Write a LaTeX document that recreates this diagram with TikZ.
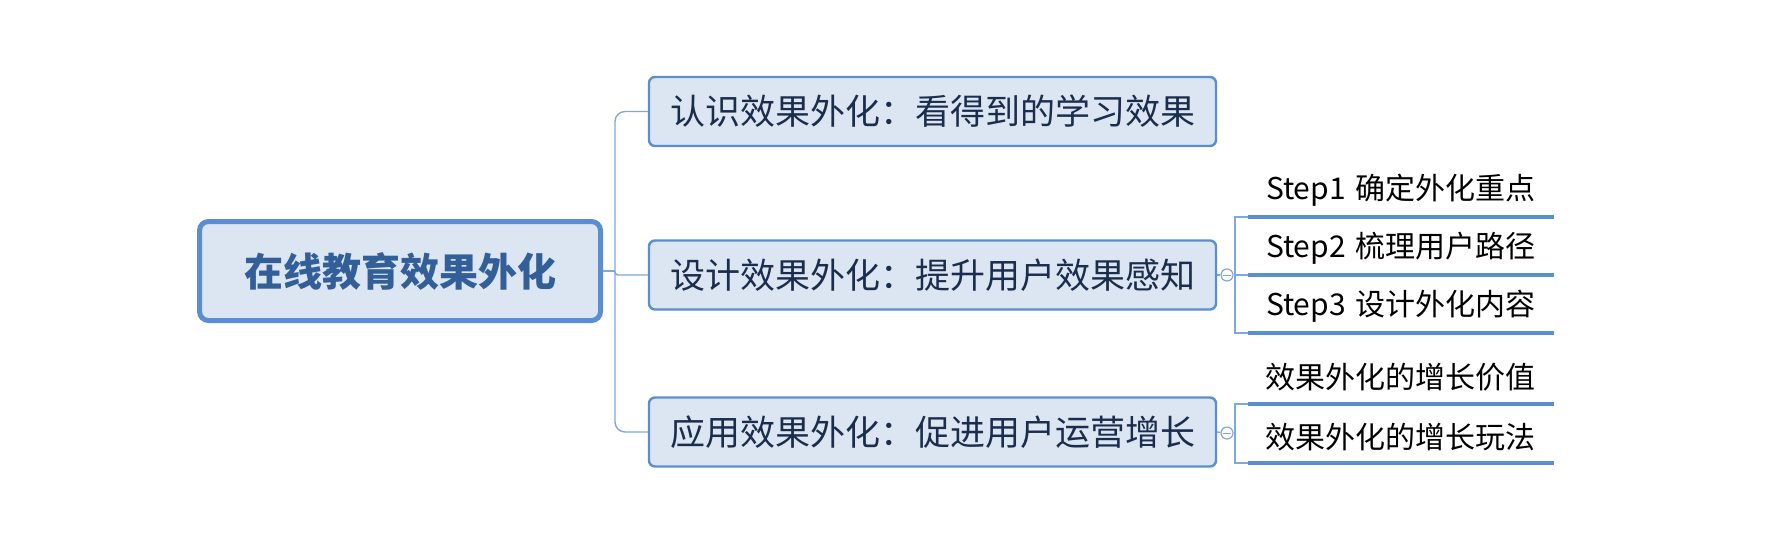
\documentclass[tikz,border=0pt]{standalone}
\usepackage{fontspec}
\setmainfont{Noto Sans CJK SC}

\definecolor{box_line}{HTML}{5A8ED3}
\definecolor{box_fill}{HTML}{DCE6F2}
\definecolor{root_text}{HTML}{335F98}
\definecolor{branch_text}{HTML}{1B2D4C}
\definecolor{link_line}{HTML}{7FA8DD}

\begin{document}
\begin{tikzpicture}[x=0.5pt, y=-0.5pt,
	root_box/.style={draw=box_line, line width=2.5pt, fill=box_fill, rounded corners=4.5pt, minimum width=200.5pt, minimum height=49.5pt, text=root_text, font=\fontsize{19.5}{23}\selectfont\bfseries},
	branch_box/.style={draw=box_line, line width=1.2pt, fill=box_fill, rounded corners=3pt, minimum width=283.5pt, minimum height=34.5pt, text=branch_text, font=\fontsize{17.5}{21}\selectfont},
	leaf_text/.style={anchor=south west, minimum width=152.5pt, minimum height=26pt, inner sep=0pt, font=\fontsize{15}{18}\selectfont},
	leaf_rule/.style={draw=box_line, line width=2pt},
	link/.style={draw=link_line, line width=0.7pt},
	fold_mark/.style={circle, draw=link_line, line width=0.6pt, fill=white, minimum size=6pt, inner sep=0pt,
		path picture={\draw[link_line, line width=0.5pt] ([xshift=-1.8pt]path picture bounding box.center) -- ([xshift=1.8pt]path picture bounding box.center);}}]
	\useasboundingbox (0,0) rectangle (1792,554);

	\node[root_box] (root) at (400,271) {在线教育效果外化};
	\node[branch_box] (know_eff) at (932.5,111.5) {认识效果外化：看得到的学习效果};
	\node[branch_box] (design_eff) at (932.5,275) {设计效果外化：提升用户效果感知};
	\node[branch_box] (apply_eff) at (932.5,432) {应用效果外化：促进用户运营增长};

	\coordinate (fork) at (615,271);
	\draw[link] (root.east) -- (fork);
	\draw[link, rounded corners=5pt] (fork) |- (know_eff.west);
	\draw[link, rounded corners=1.5pt] (fork) |- (design_eff.west);
	\draw[link, rounded corners=5pt] (fork) |- (apply_eff.west);

	% steps of the design branch
	\node[leaf_text] (step_one) at (1248,217) {Step1\,\,确定外化重点};
	\node[leaf_text] (step_two) at (1248,275) {Step2\,\,梳理用户路径};
	\node[leaf_text] (step_three) at (1248,333) {Step3\,\,设计外化内容};
	\foreach \leaf in {step_one, step_two, step_three}
		\draw[leaf_rule] (\leaf.south west) -- (\leaf.south east);
	\node[fold_mark] (fold_design) at (1227,275) {};
	\draw[link] (design_eff.east) -- (fold_design);
	\draw[link] (fold_design) -- (step_two.south west);
	\draw[link] (step_one.south west) -- ++(-13,0) |- (step_three.south west);

	% growth of the apply branch
	\node[leaf_text] (growth_value) at (1248,404) {效果外化的增长价值};
	\node[leaf_text] (growth_play) at (1248,463) {效果外化的增长玩法};
	\foreach \leaf in {growth_value, growth_play}
		\draw[leaf_rule] (\leaf.south west) -- (\leaf.south east);
	\node[fold_mark] (fold_apply) at (1227,433) {};
	\draw[link] (apply_eff.east) -- (fold_apply);
	\draw[link] (growth_value.south west) -- ++(-13,0) coordinate (apply_join) |- (growth_play.south west);
	\draw[link] (fold_apply) -- (fold_apply -| apply_join);
\end{tikzpicture}
\end{document}
